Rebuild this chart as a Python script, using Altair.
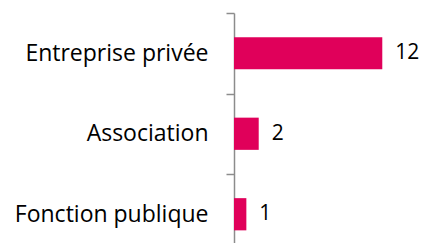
import altair as alt
import pandas as pd

categories = ["Entreprise privée", "Association", "Fonction publique"]
values = [12, 2, 1]

df = pd.DataFrame({"cat": categories, "val": values})

FONT = "Open Sans"
STEP = 80.5

y_scale = alt.Scale(paddingInner=0.6, paddingOuter=0.3, range=[0, STEP * 3])
y_enc = alt.Y(
    "cat:N",
    sort=categories,
    title=None,
    scale=y_scale,
    axis=alt.Axis(
        tickSize=8,
        tickOffset=-STEP / 2,
        labelOffset=STEP / 2,
        labelPadding=18,
        labelFontSize=23,
        labelFont=FONT,
        labelColor="#000000",
        domainColor="#8c8c8c",
        tickColor="#8c8c8c",
        domainWidth=1.5,
        tickWidth=1.5,
        labelLimit=300,
    ),
)
x_enc = alt.X("val:Q", title=None, scale=alt.Scale(domain=[0, 14]), axis=None)

bars = alt.Chart(df).mark_bar(color="#E0005A").encode(x=x_enc, y=y_enc)
labels = alt.Chart(df).mark_text(
    align="left", baseline="middle", dx=13, fontSize=21, font=FONT, color="#000000"
).encode(x=x_enc, y=alt.Y("cat:N", sort=categories, scale=y_scale), text="val:Q")

chart = (
    alt.layer(bars, labels)
    .properties(
        width=173,
        height=230,
        autosize=alt.AutoSizeParams(type="none"),
        padding={"left": 226, "top": 5, "right": 13, "bottom": 0},
    )
    .configure_view(stroke=None)
)

chart.save("out.html", embed_options={"renderer": "svg", "actions": False})
